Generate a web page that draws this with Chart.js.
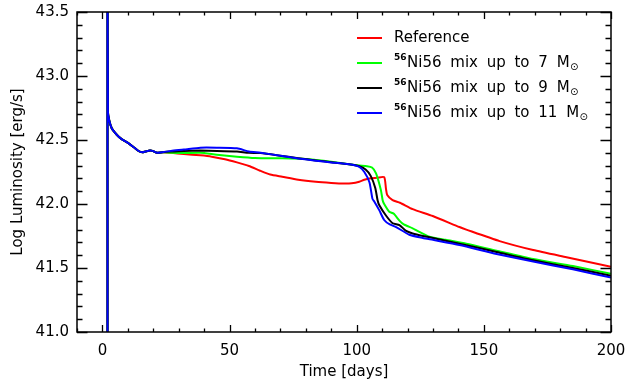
<!DOCTYPE html>
<html>
<head>
<meta charset="utf-8">
<script src="https://cdn.jsdelivr.net/npm/chart.js@4.4.1/dist/chart.umd.min.js"></script>
<style>
  html, body { margin: 0; padding: 0; background: #fff; }
  #wrap { width: 626px; height: 381px; }
</style>
</head>
<body>
<div id="wrap"><canvas id="lumChart" width="626" height="381"></canvas></div>
<script>
/* =========================
   DATA
========================= */
// shared shock-breakout spike + early plateau (all models overlap here)
const earlyDays = [2.0, 2.0, 2.15, 2.7, 3.7, 5.0, 6.2, 7.7, 10.3, 12.2, 14.2, 15.7, 16.9, 18.7, 19.7, 21.5, 23.7];
const earlyLum  = [40.8, 44.0, 42.72, 42.65, 42.59, 42.555, 42.53, 42.505, 42.474, 42.445, 42.414, 42.405, 42.41, 42.418, 42.415, 42.40, 42.405];

const refDays = [27, 32, 38.5, 43, 48.2, 52.9, 57.6, 62, 66, 70.7, 77, 83.9, 90, 95, 98, 101, 103, 105, 108, 110.8, 111.5, 112, 114.1, 117, 122, 129.9, 140.4, 143.1, 156.2, 169.4, 182.5, 200];
const refLum  = [42.40, 42.39, 42.38, 42.37, 42.35, 42.325, 42.297, 42.26, 42.23, 42.213, 42.19, 42.174, 42.165, 42.16, 42.162, 42.174, 42.19, 42.20, 42.205, 42.21, 42.12, 42.07, 42.03, 42.01, 41.96, 41.906, 41.82, 41.80, 41.71, 41.64, 41.584, 41.51];

const mix7Days = [27, 32, 38.5, 45, 52.9, 60, 70.7, 80, 83.9, 90, 97, 101, 104, 106, 107.6, 109.5, 110.2, 110.8, 112.8, 114.5, 116.8, 118.5, 122, 128.6, 135, 143.1, 155, 169.4, 185, 200];
const mix7Lum  = [42.40, 42.398, 42.40, 42.385, 42.37, 42.36, 42.357, 42.352, 42.344, 42.33, 42.31, 42.30, 42.295, 42.285, 42.24, 42.11, 42.03, 42.0, 41.94, 41.925, 41.87, 41.84, 41.81, 41.745, 41.72, 41.69, 41.635, 41.57, 41.515, 41.455];

const mix9Days = [27, 32, 38.5, 45, 52.9, 57.6, 62.2, 70.7, 77, 83.9, 90, 97, 101, 103.5, 105.5, 107.3, 108.2, 108.9, 111.5, 114.1, 116.8, 119.4, 122, 126, 128.6, 140.4, 155, 169.4, 185, 200];
const mix9Lum  = [42.41, 42.415, 42.417, 42.415, 42.41, 42.40, 42.398, 42.375, 42.358, 42.34, 42.327, 42.31, 42.295, 42.27, 42.22, 42.125, 42.03, 41.99, 41.91, 41.85, 41.835, 41.79, 41.77, 41.75, 41.74, 41.69, 41.625, 41.56, 41.50, 41.44];

const mix11Days = [27, 32, 38.5, 45, 52.9, 57.6, 62.2, 70.7, 77, 83.9, 90, 97, 101, 103, 105, 106.2, 106.9, 108.9, 110.8, 113, 115.5, 120.7, 126, 130, 140.4, 155, 169.4, 185, 200];
const mix11Lum  = [42.415, 42.425, 42.44, 42.44, 42.435, 42.41, 42.40, 42.375, 42.356, 42.338, 42.325, 42.31, 42.29, 42.25, 42.17, 42.04, 42.02, 41.95, 41.875, 41.84, 41.82, 41.76, 41.735, 41.72, 41.68, 41.61, 41.55, 41.49, 41.425];

const xTickLabels = [0, 50, 100, 150, 200];
const yTickLabels = [41.0, 41.5, 42.0, 42.5, 43.0, 43.5];

const seriesNames  = ["Reference", "mix up to 7", "mix up to 9", "mix up to 11"];
const seriesColors = ["#ff0000", "#00ff00", "#000000", "#0000ff"];

const FONT = "'DejaVu Sans', sans-serif";

function toPoints(days, lum) {
  const all = earlyDays.concat(days);
  const vals = earlyLum.concat(lum);
  return all.map((d, i) => ({ x: d, y: vals[i] }));
}

/* =========================
   PLUGINS: frame + ticks, legend
========================= */
const frameTicks = {
  id: "frameTicks",
  afterDatasetsDraw(chart) {
    const { ctx, chartArea: a, scales: { x, y } } = chart;
    ctx.save();
    ctx.strokeStyle = "#000";
    ctx.lineWidth = 1.3;
    ctx.beginPath();

    // x ticks every 10 days, major every 50 (bottom + top)
    for (let d = -10; d <= 200; d += 10) {
      const px = Math.round(x.getPixelForValue(d)) + 0.5;
      const len = d % 50 === 0 ? 7 : 3.5;
      ctx.moveTo(px, a.bottom); ctx.lineTo(px, a.bottom - len);
      ctx.moveTo(px, a.top);    ctx.lineTo(px, a.top + len);
    }
    // y ticks every 0.1, major every 0.5 (left + right)
    for (let i = 410; i <= 435; i++) {
      const py = Math.round(y.getPixelForValue(i / 10)) + 0.5;
      const len = i % 5 === 0 ? 10.5 : 5.5;
      ctx.moveTo(a.left, py);  ctx.lineTo(a.left + len, py);
      ctx.moveTo(a.right, py); ctx.lineTo(a.right - len, py);
    }
    ctx.stroke();
    ctx.lineWidth = 1.5;
    ctx.strokeRect(a.left, a.top, a.right - a.left, a.bottom - a.top);
    ctx.restore();
  }
};

const niLegend = {
  id: "niLegend",
  afterDraw(chart) {
    const { ctx } = chart;
    const x0 = 357, x1 = 382, tx = 394;
    const rows = [38, 63, 88, 113];
    ctx.save();
    ctx.textBaseline = "middle";
    ctx.fillStyle = "#000";
    rows.forEach((ry, i) => {
      ctx.strokeStyle = seriesColors[i];
      ctx.lineWidth = 2;
      ctx.beginPath();
      ctx.moveTo(x0, ry); ctx.lineTo(x1, ry);
      ctx.stroke();

      let cx = tx;
      ctx.wordSpacing = "0px";
      if (i === 0) {
        ctx.font = "15px " + FONT;
        ctx.fillText(seriesNames[0], cx, ry);
        return;
      }
      ctx.font = "bold 9px " + FONT;
      ctx.fillText("56", cx, ry - 5);
      cx += ctx.measureText("56").width + 0.5;
      ctx.font = "15px " + FONT;
      ctx.wordSpacing = "4px";
      const main = "Ni56 " + seriesNames[i] + " M";
      ctx.fillText(main, cx, ry);
      cx += ctx.measureText(main).width + 0.5;
      ctx.wordSpacing = "0px";
      ctx.font = "10px " + FONT;
      ctx.fillText("\u2299", cx, ry + 4);
    });
    ctx.restore();
  }
};

/* =========================
   CHART
========================= */
const datasets = [
  [refDays, refLum],
  [mix7Days, mix7Lum],
  [mix9Days, mix9Lum],
  [mix11Days, mix11Lum]
].map(([d, l], i) => ({
  label: seriesNames[i],
  data: toPoints(d, l),
  borderColor: seriesColors[i],
  borderWidth: 2,
  pointRadius: 0,
  tension: 0.2,
  fill: false,
  order: 3 - i
}));

new Chart(document.getElementById("lumChart"), {
  type: "line",
  data: { datasets },
  options: {
    responsive: false,
    animation: false,
    devicePixelRatio: 1,
    layout: { padding: { left: 0, right: 15, top: 12, bottom: 0 } },
    plugins: {
      legend: { display: false },
      tooltip: { enabled: false }
    },
    scales: {
      x: {
        type: "linear",
        min: -10,
        max: 200,
        grid: { display: false, drawTicks: false },
        border: { display: false },
        afterBuildTicks: s => { s.ticks = xTickLabels.map(v => ({ value: v })); },
        afterFit: s => {
          s.height = 49;
          s.paddingLeft = 0;
          s.paddingRight = 0;
        },
        ticks: {
          padding: 10,
          maxRotation: 0,
          color: "#000",
          font: { family: FONT, size: 15 },
          callback: v => String(v)
        },
        title: {
          display: true,
          text: "Time [days]",
          color: "#000",
          font: { family: FONT, size: 15 },
          padding: 0
        }
      },
      y: {
        type: "linear",
        min: 41.0,
        max: 43.5,
        grid: { display: false, drawTicks: false },
        border: { display: false },
        afterBuildTicks: s => { s.ticks = yTickLabels.map(v => ({ value: v })); },
        afterFit: s => {
          s.width = 77;
          s.paddingTop = 0;
          s.paddingBottom = 0;
        },
        ticks: {
          padding: 8,
          color: "#000",
          font: { family: FONT, size: 15 },
          callback: v => Number(v).toFixed(1)
        },
        title: {
          display: true,
          text: "Log Luminosity [erg/s]",
          color: "#000",
          font: { family: FONT, size: 15 },
          padding: { top: 9, bottom: 0 }
        }
      }
    }
  },
  plugins: [frameTicks, niLegend]
});
</script>
</body>
</html>
